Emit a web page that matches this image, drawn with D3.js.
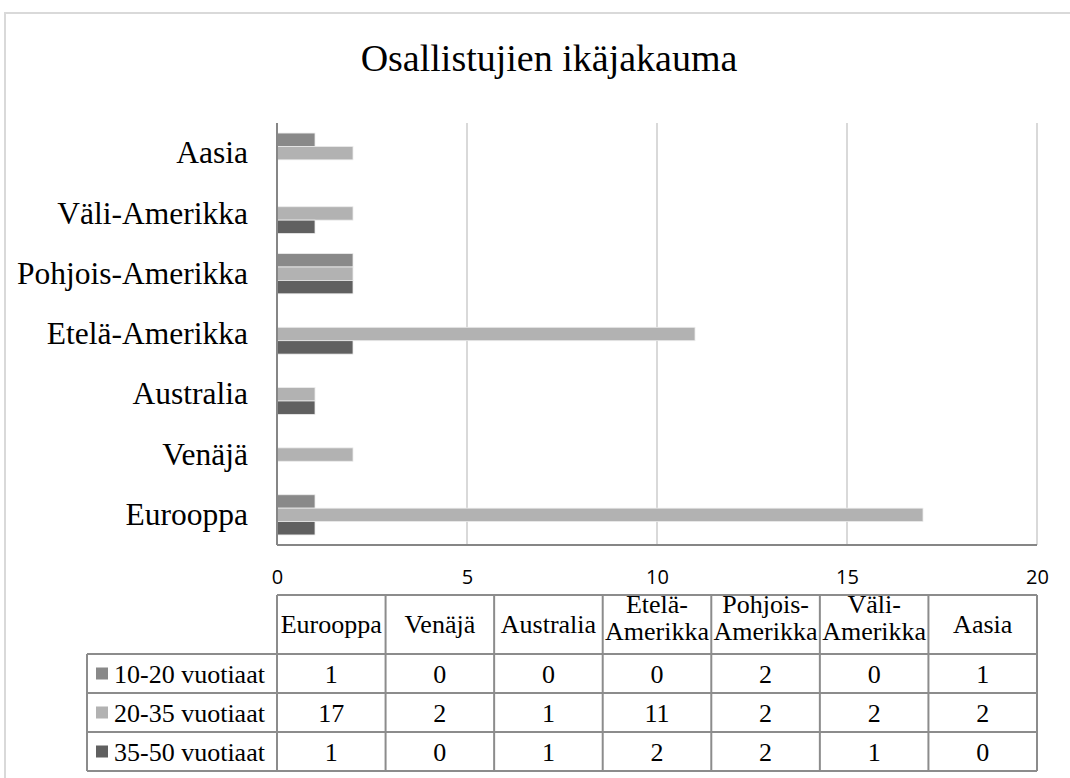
<!DOCTYPE html>
<html>
<head>
<meta charset="utf-8">
<script src="https://cdn.jsdelivr.net/npm/d3@7"></script>
<style>
  body { margin: 0; background: #fff; }
  text { font-family: "Liberation Serif", "Times New Roman", serif; fill: #000; }
  .tick text { font-family: "Open Sans", "Liberation Sans", sans-serif; }
</style>
</head>
<body>
<div id="chart"></div>
<script>
// Data
var categories = ["Eurooppa", "Venäjä", "Australia", "Etelä-Amerikka", "Pohjois-Amerikka", "Väli-Amerikka", "Aasia"];
var seriesNames = ["10-20 vuotiaat", "20-35 vuotiaat", "35-50 vuotiaat"];
var age10to20 = [1, 0, 0, 0, 2, 0, 1];
var age20to35 = [17, 2, 1, 11, 2, 2, 2];
var age35to50 = [1, 0, 1, 2, 2, 1, 0];
var xTicks = [0, 5, 10, 15, 20];
var colors = ["#898989", "#b2b2b2", "#606060"];

var seriesValues = [age10to20, age20to35, age35to50];

// SVG
var svgWidth = 1070;
var svgHeight = 778;

var plot = { left: 277, right: 1037, top: 123, bottom: 545 };

var svg = d3.select("#chart")
  .append("svg")
  .attr("width", svgWidth)
  .attr("height", svgHeight);

// chart border
svg.append("rect")
  .attr("x", 5)
  .attr("y", 13)
  .attr("width", 1100)
  .attr("height", 800)
  .attr("fill", "none")
  .attr("stroke", "#d9d9d9")
  .attr("stroke-width", 2);

// title
svg.append("text")
  .attr("x", 549)
  .attr("y", 71)
  .attr("text-anchor", "middle")
  .style("font-size", "38px")
  .text("Osallistujien ikäjakauma");

// scales
var xScale = d3.scaleLinear()
  .domain([0, 20])
  .range([plot.left, plot.right]);

var yScale = d3.scaleBand()
  .domain(categories.slice().reverse())
  .range([plot.top, plot.bottom])
  .paddingInner(1 / 3)
  .paddingOuter(1 / 6);

var ySub = d3.scaleBand()
  .domain(seriesNames)
  .range([0, yScale.bandwidth()]);

// gridlines
svg.append("g")
  .selectAll("line")
  .data(xTicks.slice(1))
  .enter()
  .append("line")
  .attr("x1", d => xScale(d))
  .attr("x2", d => xScale(d))
  .attr("y1", plot.top)
  .attr("y2", plot.bottom)
  .attr("stroke", "#d9d9d9")
  .attr("stroke-width", 2);

// bars
var barData = [];
categories.forEach(function (c, i) {
  seriesNames.forEach(function (s, j) {
    barData.push({ cat: c, series: s, value: seriesValues[j][i], color: colors[j] });
  });
});

svg.append("g")
  .selectAll("rect")
  .data(barData)
  .enter()
  .append("rect")
  .attr("x", xScale(0))
  .attr("y", d => yScale(d.cat) + ySub(d.series))
  .attr("width", d => xScale(d.value) - xScale(0))
  .attr("height", ySub.bandwidth())
  .attr("fill", d => d.color)
  .attr("stroke", d => d.value > 0 ? "#ececec" : "none")
  .attr("stroke-width", 0.8);

// axes lines
svg.append("line")
  .attr("x1", plot.left).attr("x2", plot.left)
  .attr("y1", plot.top).attr("y2", plot.bottom)
  .attr("stroke", "#868686").attr("stroke-width", 2);

svg.append("line")
  .attr("x1", plot.left).attr("x2", plot.right)
  .attr("y1", plot.bottom).attr("y2", plot.bottom)
  .attr("stroke", "#868686").attr("stroke-width", 2);

var bottomAxis = d3.axisBottom(xScale)
  .tickValues(xTicks)
  .tickSize(0)
  .tickPadding(0);

var xAxisG = svg.append("g")
  .attr("transform", `translate(0, 570)`)
  .call(bottomAxis);
xAxisG.select(".domain").remove();
xAxisG.selectAll("text")
  .style("font-size", "20px")
  .attr("dy", "0.35em")
  .attr("y", 7);

var leftAxis = d3.axisLeft(yScale)
  .tickSize(0)
  .tickPadding(29);

var yAxisG = svg.append("g")
  .attr("transform", `translate(${plot.left}, 0)`)
  .call(leftAxis);
yAxisG.select(".domain").remove();
yAxisG.selectAll("text")
  .style("font-family", "'Liberation Serif', 'Times New Roman', serif")
  .style("font-size", "31.5px");

// data table
var table = { left: 87, top: 595, headerBottom: 654, rowH: 39 };
var colX = d3.scaleBand()
  .domain(categories)
  .range([plot.left, plot.right]);

var tableG = svg.append("g");
var lineColor = "#8c8c8c";
var tableBottom = table.headerBottom + table.rowH * seriesNames.length;

// header outline
tableG.append("line")
  .attr("x1", plot.left).attr("x2", plot.right)
  .attr("y1", table.top).attr("y2", table.top)
  .attr("stroke", lineColor).attr("stroke-width", 2);

// row lines
d3.range(seriesNames.length + 1).forEach(function (r) {
  var y = table.headerBottom + r * table.rowH;
  tableG.append("line")
    .attr("x1", table.left).attr("x2", plot.right)
    .attr("y1", y).attr("y2", y)
    .attr("stroke", lineColor).attr("stroke-width", 2);
});

// column lines
tableG.append("line")
  .attr("x1", table.left).attr("x2", table.left)
  .attr("y1", table.headerBottom).attr("y2", tableBottom)
  .attr("stroke", lineColor).attr("stroke-width", 2);

categories.concat(["end"]).forEach(function (c, i) {
  var x = i < categories.length ? colX(c) : plot.right;
  tableG.append("line")
    .attr("x1", x).attr("x2", x)
    .attr("y1", table.top).attr("y2", tableBottom)
    .attr("stroke", lineColor).attr("stroke-width", 2);
});

// header text
categories.forEach(function (c) {
  var cx = colX(c) + colX.bandwidth() / 2;
  var parts = c.indexOf("-") > 0 ? [c.split("-")[0] + "-", c.split("-")[1]] : [c];
  var t = tableG.append("text")
    .attr("text-anchor", "middle")
    .style("font-size", "26px");
  if (parts.length === 1) {
    t.attr("x", cx).attr("y", 633).text(c);
  } else {
    t.append("tspan").attr("x", cx).attr("y", 613).text(parts[0]);
    t.append("tspan").attr("x", cx).attr("y", 640).text(parts[1]);
  }
});

// rows
seriesNames.forEach(function (s, j) {
  var yMid = table.headerBottom + j * table.rowH + table.rowH / 2;
  tableG.append("rect")
    .attr("x", 96)
    .attr("y", yMid - 6)
    .attr("width", 12)
    .attr("height", 12)
    .attr("fill", colors[j]);
  tableG.append("text")
    .attr("x", 114)
    .attr("y", yMid)
    .attr("dy", "0.35em")
    .style("font-size", "26px")
    .text(s);
  categories.forEach(function (c, i) {
    tableG.append("text")
      .attr("x", colX(c) + colX.bandwidth() / 2)
      .attr("y", yMid)
      .attr("dy", "0.35em")
      .attr("text-anchor", "middle")
      .style("font-size", "26px")
      .text(seriesValues[j][i]);
  });
});
</script>
</body>
</html>
